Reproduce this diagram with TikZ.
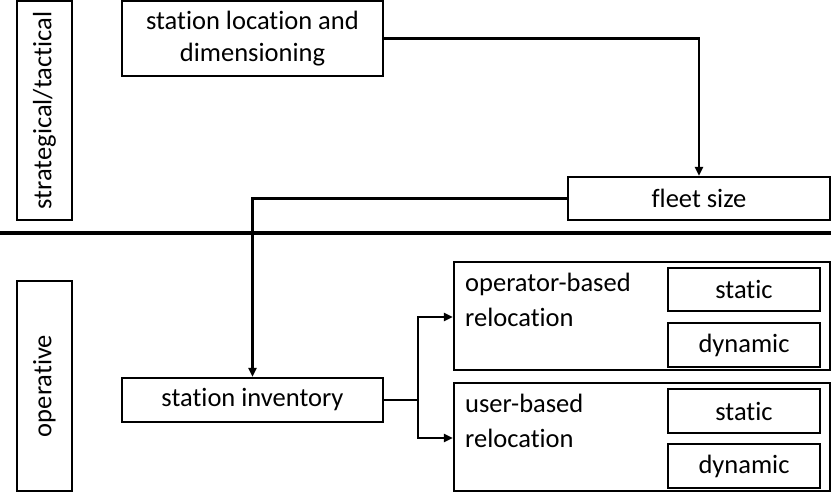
\documentclass[tikz,border=0pt]{standalone}
\usepackage{fontspec}
\setmainfont[Ligatures=NoCommon]{Carlito}
\usetikzlibrary{arrows.meta}
\begin{document}
\begin{tikzpicture}[x=1pt,y=-1pt,
  txt/.style={font=\fontsize{26.5}{35}\selectfont},
  box/.style={draw,line width=2.2pt,inner sep=0pt,txt},
  link/.style={line width=2.4pt},
  arr/.style={link,-{Triangle[length=9pt,width=8pt]}}]
\useasboundingbox (0,0) rectangle (831,495);
% level labels
\node[box,minimum width=219pt,minimum height=55pt,rotate=90] (strat) at (44.5,110.5) {strategical/tactical};
\node[box,minimum width=210pt,minimum height=55pt,rotate=90] (oper) at (44.5,386) {operative};
% divider between the planning levels
\coordinate (dl) at (0,233);
\coordinate (dr) at (831,233);
\draw[line width=3.4pt] (dl) -- (dr);
% main boxes
\node[box,minimum width=261pt,minimum height=75pt,align=center] (loc) at (252.5,38.5) {station location and\\[-3pt]dimensioning};
\node[box,minimum width=262pt,minimum height=43pt] (fleet) at (699,198.5) {fleet size};
\node[box,minimum width=261pt,minimum height=44pt] (inv) at (252.5,400) {station inventory};
% relocation groups
\node[box,minimum width=376pt,minimum height=108pt] (opb) at (642,316) {};
\node[box,minimum width=376pt,minimum height=108pt] (usb) at (642,437) {};
\node[txt,align=left,anchor=north west,inner sep=0pt] (opbt) at (465,273) {operator-based\\relocation};
\node[txt,align=left,anchor=north west,inner sep=0pt] (usbt) at (465,394) {user-based\\relocation};
\node[box,minimum width=152pt,minimum height=43pt] (s1) at (744,289.5) {static};
\node[box,minimum width=152pt,minimum height=44pt] (d1) at (744,345) {dynamic};
\node[box,minimum width=152pt,minimum height=44pt] (s2) at (744,411) {static};
\node[box,minimum width=152pt,minimum height=44pt] (d2) at (744,466) {dynamic};
% connectors
\coordinate (j) at (418,400);
\draw[arr] (loc.east) -| (fleet.north);
\draw[arr] (fleet.west) -| (inv.north);
\draw[link] (inv.east) -- (j);
\draw[arr] (j) |- (opb.west |- 0,317);
\draw[arr] (j) |- (usb.west |- 0,438);
\end{tikzpicture}
\end{document}
